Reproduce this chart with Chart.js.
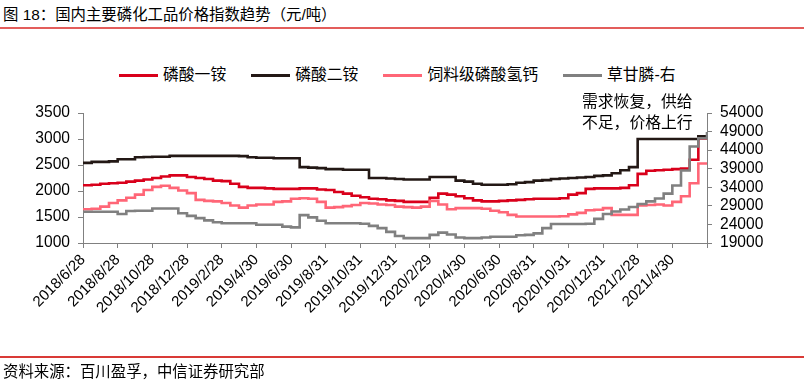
<!DOCTYPE html>
<html>
<head>
<meta charset="utf-8">
<script src="https://cdn.jsdelivr.net/npm/chart.js@4.4.1/dist/chart.umd.min.js"></script>
<style>
  body { margin: 0; background: #fff; font-family: "Liberation Sans", "Noto Sans CJK SC", sans-serif; color: #000; }
  #wrap { position: relative; width: 804px; height: 385px; overflow: hidden; }
  #chart { position: absolute; left: 0; top: 0; }
  .title { position: absolute; left: 3px; top: 5px; font-size: 15.4px; line-height: 20px; white-space: nowrap; }
  .rule-top { position: absolute; left: 0; top: 27px; width: 804px; height: 2px; background: #e35d5b; }
  .rule-bottom { position: absolute; left: 0; top: 356px; width: 804px; height: 1.5px; background: #d93a36; }
  .source { position: absolute; left: 3px; top: 362px; font-size: 15.4px; line-height: 20px; white-space: nowrap; }
  #legend { position: absolute; left: 119px; top: 65px; display: flex; align-items: center; font-size: 15.8px; line-height: 20px; }
  #legend .item { display: flex; align-items: center; margin-right: 25px; white-space: nowrap; }
  #legend .swatch { width: 39px; height: 3px; margin-right: 5px; }
  .note { position: absolute; left: 582px; top: 92px; font-size: 15.8px; line-height: 20.6px; white-space: nowrap; }
</style>
</head>
<body>
<div id="wrap">
  <div class="title">图 18：国内主要磷化工品价格指数趋势（元/吨）</div>
  <div class="rule-top"></div>
  <div id="legend"></div>
  <canvas id="chart" width="804" height="385"></canvas>
  <div class="note">需求恢复，供给<br>不足，价格上行</div>
  <div class="rule-bottom"></div>
  <div class="source">资料来源：百川盈孚，中信证券研究部</div>
</div>
<script>
// x 轴刻度标签（每两个月一个刻度，数据按半月取点，共 73 个点）
const tickLabels = ['2018/6/28', '2018/8/28', '2018/10/28', '2018/12/28', '2019/2/28', '2019/4/30',
  '2019/6/30', '2019/8/31', '2019/10/31', '2019/12/31', '2020/2/29', '2020/4/30',
  '2020/6/30', '2020/8/31', '2020/10/31', '2020/12/31', '2021/2/28', '2021/4/30'];

const seriesNames = ['磷酸一铵', '磷酸二铵', '饲料级磷酸氢钙', '草甘膦-右'];

// 磷酸一铵（左轴）
const map = [2110, 2120, 2140, 2150, 2160, 2180, 2200, 2220, 2250, 2280, 2300, 2300, 2270, 2250, 2230, 2200,
  2190, 2140, 2080, 2060, 2060, 2050, 2040, 2040, 2040, 2050, 2050, 2030, 2020, 1980, 1950, 1910,
  1880, 1850, 1840, 1820, 1810, 1790, 1790, 1790, 1870, 1950, 1930, 1900, 1860, 1820, 1800, 1800,
  1810, 1820, 1830, 1840, 1850, 1850, 1850, 1860, 1930, 1960, 2040, 2050, 2050, 2050, 2060, 2110,
  2330, 2390, 2400, 2410, 2420, 2430, 2600, 3010, 3040];

// 磷酸二铵（左轴）
const dap = [2540, 2560, 2560, 2570, 2610, 2610, 2650, 2655, 2660, 2660, 2675, 2675, 2675, 2675, 2675, 2675,
  2675, 2675, 2670, 2650, 2640, 2640, 2630, 2630, 2630, 2460, 2450, 2440, 2420, 2420, 2410, 2410,
  2410, 2250, 2250, 2240, 2230, 2220, 2220, 2220, 2270, 2270, 2270, 2200, 2180, 2140, 2120, 2120,
  2120, 2130, 2160, 2170, 2200, 2210, 2230, 2240, 2250, 2260, 2270, 2290, 2300, 2340, 2400, 2460,
  3000, 3000, 3000, 3000, 3000, 3000, 3000, 3050, 3060];

// 饲料级磷酸氢钙（左轴）
const dcp = [1650, 1660, 1700, 1770, 1820, 1870, 1930, 2020, 2080, 2100, 2060, 2010, 1960, 1830, 1810, 1800,
  1770, 1720, 1680, 1720, 1740, 1740, 1790, 1800, 1850, 1860, 1850, 1790, 1680, 1690, 1710, 1730,
  1770, 1760, 1740, 1730, 1700, 1690, 1680, 1700, 1810, 1740, 1650, 1670, 1670, 1670, 1660, 1620,
  1590, 1540, 1510, 1510, 1510, 1510, 1510, 1515, 1550, 1580, 1630, 1640, 1670, 1540, 1540, 1540,
  1720, 1730, 1740, 1720, 1790, 1900, 2150, 2530, 2530];

// 草甘膦（右轴）
const glyphosate = [27400, 27400, 27400, 27400, 26800, 27600, 27700, 27700, 28300, 28300, 28300, 27000, 26300, 25700, 25100, 24600,
  24300, 24300, 24300, 24300, 23900, 23900, 23900, 23400, 23200, 26500, 25900, 25000, 24300, 24300, 24300, 24300,
  24200, 23600, 23000, 22000, 20900, 20300, 20300, 20300, 21200, 21800, 21300, 20500, 20300, 20300, 20500, 20700,
  20700, 20700, 21100, 21200, 21600, 23000, 24100, 24100, 24100, 24100, 24200, 25500, 26800, 27500, 28000, 28700,
  29500, 30200, 31000, 32300, 34500, 38500, 45000, 47200, 48900];

const seriesColors = ['#d9001b', '#231815', '#ff6677', '#808080'];
const seriesData = [map, dap, dcp, glyphosate];
const seriesAxis = ['y', 'y', 'y', 'y1'];
const seriesOrder = [4, 3, 2, 1];

const datasets = seriesData.map((vals, k) => ({
  label: seriesNames[k],
  data: vals.map((v, i) => ({ x: i, y: v })),
  yAxisID: seriesAxis[k],
  borderColor: seriesColors[k],
  backgroundColor: seriesColors[k],
  borderWidth: 2.6,
  pointRadius: 0,
  stepped: true,
  order: seriesOrder[k]
}));

// 图例
const legend = document.getElementById('legend');
seriesNames.forEach((name, k) => {
  const item = document.createElement('div');
  item.className = 'item';
  const sw = document.createElement('span');
  sw.className = 'swatch';
  sw.style.background = seriesColors[k];
  const txt = document.createElement('span');
  txt.textContent = name;
  item.appendChild(sw);
  item.appendChild(txt);
  legend.appendChild(item);
});

const axisColor = '#808080';
const tickFont = { family: 'Liberation Sans', size: 15.6 };

new Chart(document.getElementById('chart'), {
  type: 'line',
  data: { datasets },
  options: {
    responsive: false,
    animation: false,
    layout: { padding: { left: 0, right: 0, top: 113, bottom: 0 } },
    plugins: { legend: { display: false }, tooltip: { enabled: false } },
    scales: {
      x: {
        type: 'linear',
        min: 0,
        max: 72,
        afterFit(s) { s.height = 142; },
        ticks: {
          stepSize: 4,
          autoSkip: false,
          maxRotation: 45,
          minRotation: 45,
          padding: 3,
          color: '#000',
          font: { family: 'Liberation Sans', size: 15 },
          callback: v => tickLabels[v / 4] || ''
        },
        grid: { drawOnChartArea: false, tickLength: 5, color: axisColor },
        border: { color: axisColor }
      },
      y: {
        position: 'left',
        min: 1000,
        max: 3500,
        afterFit(s) { s.width = 83; },
        ticks: { stepSize: 500, autoSkip: false, padding: 8, color: '#000', font: tickFont, callback: v => String(v) },
        grid: { drawOnChartArea: false, tickLength: 5, color: axisColor },
        border: { color: axisColor }
      },
      y1: {
        position: 'right',
        min: 19000,
        max: 54000,
        afterFit(s) { s.width = 97; },
        ticks: { stepSize: 5000, autoSkip: false, padding: 8, color: '#000', font: tickFont, callback: v => String(v) },
        grid: { drawOnChartArea: false, tickLength: 5, color: axisColor },
        border: { color: axisColor }
      }
    }
  }
});
</script>
</body>
</html>
